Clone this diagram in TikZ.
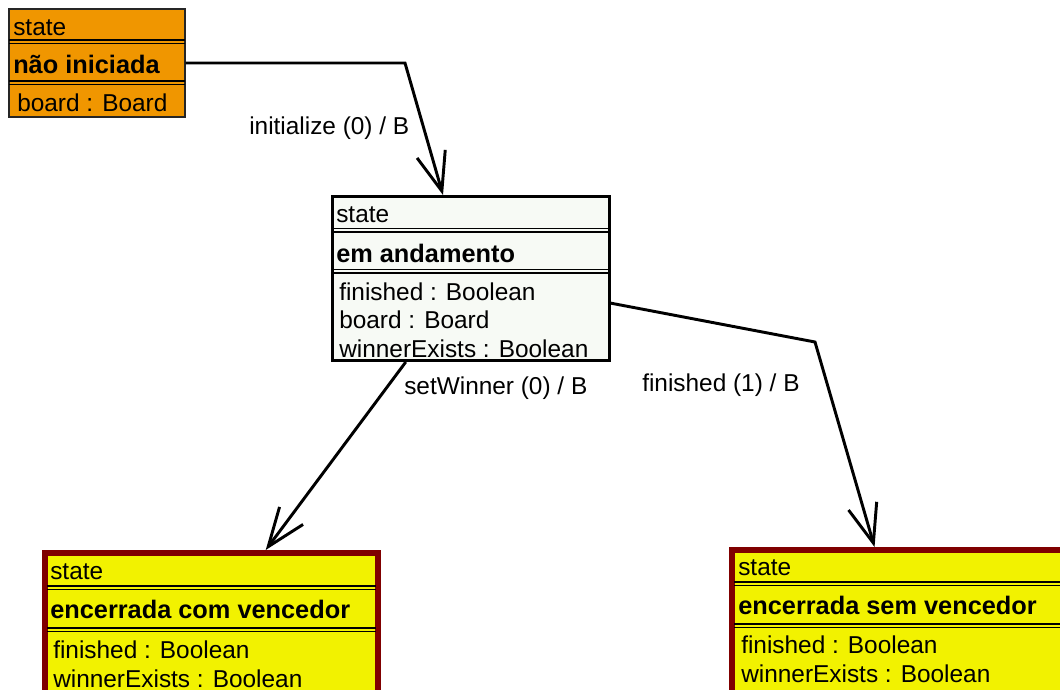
\documentclass[tikz,border=0pt]{standalone}
\usepackage{fontspec}
\setmainfont{Liberation Sans}
\usetikzlibrary{arrows.meta,calc,fit}
\definecolor{stOrange}{RGB}{240,150,0}
\definecolor{stYellow}{RGB}{242,242,0}
\definecolor{stMaroon}{RGB}{128,0,0}
\definecolor{stPaper}{RGB}{247,250,245}

\begin{document}
\begin{tikzpicture}[
  x=0.75pt, y=-0.75pt,
  txt/.style={anchor=base west, inner sep=0pt, font=\fontsize{18.3}{20}\selectfont},
  sname/.style={anchor=base west, inner sep=0pt, font=\fontsize{19}{20}\selectfont\bfseries},
  initbox/.style={draw=black!85, line width=0.9pt, fill=stOrange, inner sep=0pt},
  runbox/.style={draw=black, line width=2.2pt, fill=stPaper, inner sep=0pt},
  endbox/.style={draw=stMaroon, line width=4.5pt, fill=stYellow, inner sep=0pt},
  sepline/.style={black, line width=0.8pt},
  trans/.style={-{Straight Barb[length=29pt, width=22pt]}, line width=2.2pt},
]
\useasboundingbox (0,0) rectangle (1060,689);
\clip (0,0) rectangle (1060,689);

% double rule between compartments: #1 left x, #2 right x, #3 y
\newcommand{\dsep}[3]{%
  \draw[sepline] (#1,#3) -- (#2,#3);
  \draw[sepline] (#1,#3+3.5) -- (#2,#3+3.5);
}

% ======================= nao iniciada =======================
\node[initbox, fit={(9,9) (185,117)}] (s1) {};
\dsep{9}{185}{40}
\dsep{9}{185}{81}
\node[txt]   (s1a) at (13,35)  {state};
\node[sname] (s1b) at (13,73)  {não iniciada};
\node[txt]   (s1c) at (17,111) {board : Board};

% ======================= em andamento =======================
\node[runbox, fit={(332.5,196.5) (609.5,360.5)}] (s2) {};
\dsep{332}{609}{228.5}
\dsep{332}{609}{269.5}
\node[txt]   (s2a) at (336,222) {state};
\node[sname] (s2b) at (336,262) {em andamento};
\node[txt]   (s2c) at (339,300) {finished : Boolean};
\node[txt]   (s2d) at (339,328) {board : Board};
\node[txt]   (s2e) at (339,357) {winnerExists : Boolean};

% ======================= encerrada com vencedor =======================
\node[endbox, fit={(45,553) (378,720)}] (s3) {};
\dsep{47}{376}{586}
\dsep{47}{376}{628}
\node[txt]   (s3a) at (50,579) {state};
\node[sname] (s3b) at (50,618) {encerrada com vencedor};
\node[txt]   (s3c) at (53,658) {finished : Boolean};
\node[txt]   (s3d) at (53,687) {winnerExists : Boolean};

% ======================= encerrada sem vencedor =======================
\node[endbox, fit={(732,550) (1075,720)}] (s4) {};
\dsep{734}{1073}{582}
\dsep{734}{1073}{624}
\node[txt]   (s4a) at (738,575) {state};
\node[sname] (s4b) at (738,614) {encerrada sem vencedor};
\node[txt]   (s4c) at (741,653) {finished : Boolean};
\node[txt]   (s4d) at (741,682) {winnerExists : Boolean};

% ======================= transitions =======================
\coordinate (k1) at (405,63);
\coordinate (k2) at (815,342);
\draw[trans] (s1.east) -- (k1) -- ($(s2.north west)!0.4!(s2.north east)$);
\draw[trans] (s2.-10.8) -- (k2) -- ($(s4.north west)!0.417!(s4.north east)$);
\draw[trans] (s2.232.5) -- ($(s3.north west)!0.66!(s3.north east)$);

\node[txt] (t1) at (249,134) {initialize (0) / B};
\node[txt] (t2) at (642,391) {finished (1) / B};
\node[txt] (t3) at (404,394) {setWinner (0) / B};

\end{tikzpicture}
\end{document}
